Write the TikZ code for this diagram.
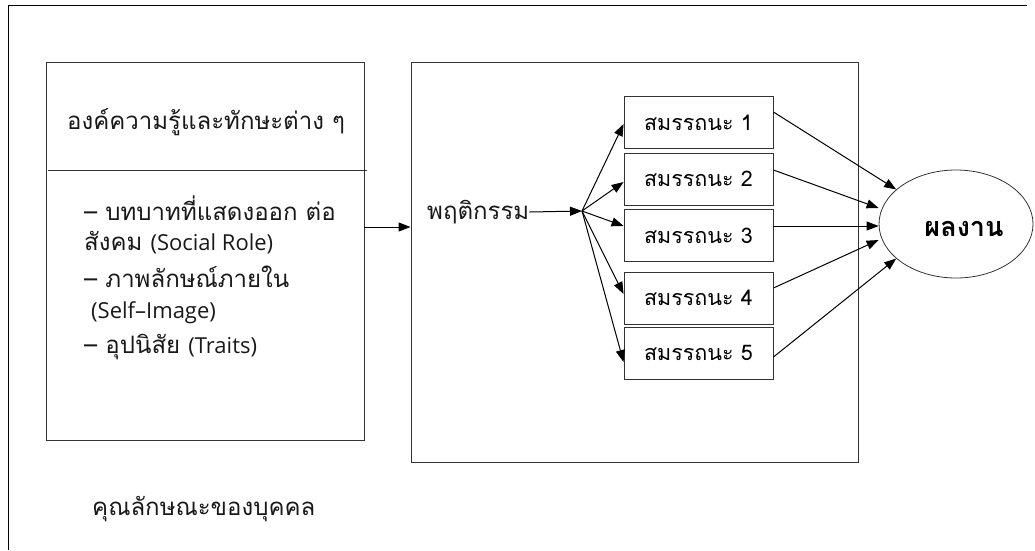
\documentclass[tikz,border=0pt]{standalone}
\usepackage{fontspec}
\setmainfont[Script=Thai]{Loma}
\newfontfamily\lat{Open Sans}
\newcommand\en[1]{{\lat\fontsize{22}{26}\selectfont #1}}
\usetikzlibrary{arrows.meta,shapes.geometric}
\tikzset{
  box/.style={draw=black!80, line width=0.9pt},
  comp/.style={draw=black!80, line width=0.9pt, minimum width=149pt, minimum height=52pt, inner sep=0pt, font=\fontsize{21.5}{24}\selectfont},
  arr/.style={-{Triangle[length=12pt,width=9pt]}, line width=1pt},
  txt/.style={font=\fontsize{24}{28}\selectfont, inner sep=0pt, anchor=west, text=black!90},
}
\begin{document}
\begin{tikzpicture}[x=1pt,y=-1pt]
\useasboundingbox (0,0) rectangle (1035,550);
% outer frame
\draw[line width=0.9pt] (8,550) -- (8,5) -- (1027,5);
% left box
\node[box, minimum width=318pt, minimum height=378pt, inner sep=0pt] (left) at (205,251) {};
\draw[line width=0.9pt, black!80] (48,170) -- (367,170);
\node[txt] (t0) at (67,122) {องค์ความรู้และทักษะต่าง ๆ};
\node[txt] (t1) at (84,208) {– บทบาทที่แสดงออก ต่อ};
\node[txt] (t2) at (84,243) {สังคม \en{(Social Role)}};
\node[txt] (t3) at (84,277) {– ภาพลักษณ์ภายใน};
\node[txt] (t4) at (91,313) {\en{(Self–Image)}};
\node[txt] (t5) at (84,347) {– อุปนิสัย \en{(Traits)}};
\node[txt] (cap) at (92,509) {คุณลักษณะของบุคคล};
% middle box
\node[box, minimum width=447pt, minimum height=400pt, inner sep=0pt] (mid) at (634.5,262) {};
\node[txt] (beh) at (427,212) {พฤติกรรม};
\coordinate (hub) at (582,211);
% competency boxes
\node[comp] (c1) at (698.5,122.5) {สมรรถนะ 1};
\node[comp] (c2) at (698.5,179) {สมรรถนะ 2};
\node[comp] (c3) at (698.5,235.5) {สมรรถนะ 3};
\node[comp] (c4) at (698.5,298) {สมรรถนะ 4};
\node[comp] (c5) at (698.5,353) {สมรรถนะ 5};
% result ellipse
\node[ellipse, draw=black!80, line width=0.8pt, minimum width=154pt, minimum height=108pt, inner sep=0pt] (res) at (956,224) {};
\node[font=\bfseries\fontsize{27}{30}\selectfont, inner sep=0pt] (resl) at (964,229) {ผลงาน};
% connectors
\draw[arr] (left.east |- 0,227) -- (mid.west |- 0,227);
\draw[arr] (beh.east) -- (hub);
\draw[arr] (hub) -- (c1.west |- 0,124);
\draw[arr] (hub) -- (c2.west |- 0,182);
\draw[arr] (hub) -- (c3.west |- 0,226);
\draw[arr] (hub) -- (c4.west |- 0,294);
\draw[arr] (hub) -- (c5.west |- 0,362);
\draw[arr] (c1.east |- 0,112) -- (res.150);
\draw[arr] (c2.east |- 0,170) -- (res.west |- 0,208);
\draw[arr] (c3.east |- 0,226) -- (res.west |- 0,226);
\draw[arr] (c4.east |- 0,288) -- (res.west |- 0,240);
\draw[arr] (c5.east |- 0,357) -- (res.210);
\end{tikzpicture}
\end{document}
